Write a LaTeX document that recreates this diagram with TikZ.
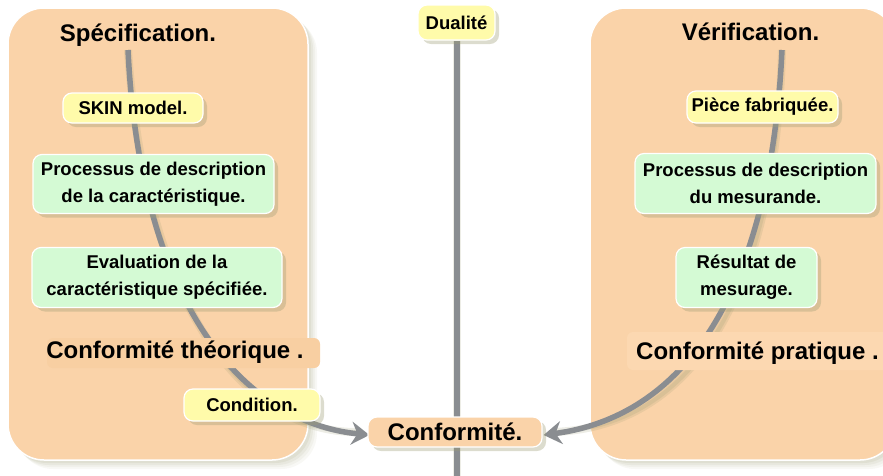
\documentclass[tikz,border=0pt]{standalone}
\usepackage{fontspec}
\setmainfont{Liberation Sans}
\usetikzlibrary{shadows,arrows.meta,calc}
\definecolor{peach}{HTML}{FAD3A9}
\definecolor{peachd}{HTML}{F8CFA2}
\definecolor{peachl}{HTML}{FCD8B1}
\definecolor{yel}{HTML}{FFFBAA}
\definecolor{grn}{HTML}{D4FAD4}
\definecolor{lgrey}{HTML}{8A8D91}
\definecolor{shcol}{HTML}{9C9C74}
\pgfdeclarelayer{back}
\pgfdeclarelayer{mid}
\pgfsetlayers{back,mid,main}
\begin{document}
\begin{tikzpicture}[x=1pt,y=-1pt,
  box/.style={draw=white, line width=1.2pt, rounded corners=9pt, align=center, inner sep=0pt,
    font=\fontsize{18.5}{27}\selectfont\bfseries,
    drop shadow={shadow xshift=4pt,shadow yshift=-4pt,fill=shcol,opacity=0.35}},
  ybox/.style={box, fill=yel},
  gbox/.style={box, fill=grn},
  bigtext/.style={font=\fontsize{24}{28}\selectfont\bfseries, inner sep=0pt},
  panel/.style={draw=white, line width=1.5pt, fill=peach, rounded corners=36pt, inner sep=0pt},
  conn/.style={draw=lgrey, line width=5.5pt},
  connsh/.style={draw=shcol, line width=8pt, opacity=0.18, xshift=5pt, yshift=-8pt},
  connsh2/.style={draw=shcol, line width=4pt, opacity=0.2, xshift=5pt, yshift=-8pt},
  tip/.style={-{Stealth[length=18pt,width=23pt,inset=6pt]}},
]
\useasboundingbox (0,0) rectangle (883,475);

% panels
\begin{pgfonlayer}{back}
\foreach \o/\op in {9/0.07,7/0.08,5/0.10,3/0.12}{
  \fill[shcol,opacity=\op,rounded corners=36pt,xshift=\o pt,yshift=-\o pt] (8,8) rectangle (308,460);
  \fill[shcol,opacity=\op,rounded corners=36pt,xshift=\o pt,yshift=-\o pt] (590,8) rectangle (896,460);
}
\node[panel, minimum width=300pt, minimum height=452pt] (lp) at (158,234) {};
\node[panel, minimum width=306pt, minimum height=452pt] (rp) at (743,234) {};
\end{pgfonlayer}

% titles
\node[bigtext, anchor=base] (spec) at (138,41) {Spécification.};
\node[bigtext, anchor=base] (verif) at (750.5,40) {Vérification.};
\coordinate (ls) at (128,50);
\coordinate (rs) at (782,50);
\coordinate (vb) at (456.5,480);

% nodes
\node[ybox, minimum width=77pt, minimum height=35pt] (dual) at (456.5,22.5) {Dualité};
\node[ybox, minimum width=140pt, minimum height=30pt] (skin) at (133,108) {SKIN model.};
\node[gbox, minimum width=241pt, minimum height=59pt] (procl) at (153.5,184) {Processus de description\\de la caractéristique.};
\node[gbox, minimum width=250pt, minimum height=60pt] (eval) at (157,277.5) {Evaluation de la\\caractéristique spécifiée.};
\node[fill=peachd, rounded corners=6pt, minimum width=273pt, minimum height=30pt, inner sep=0pt] (ctbg) at (183.5,353) {};
\node[bigtext, anchor=base] (ct) at (175,358) {Conformité théorique .};
\node[ybox, minimum width=136pt, minimum height=32pt] (cond) at (252,405) {Condition.};
\node[box, fill=peach, minimum width=174pt, minimum height=30pt, font=\fontsize{24}{28}\selectfont\bfseries] (conf) at (455,432) {Conformité.};

\node[ybox, minimum width=151pt, minimum height=32pt] (piece) at (762.5,107) {Pièce fabriquée.};
\node[gbox, minimum width=241pt, minimum height=60pt] (procr) at (755.5,183.5) {Processus de description\\du mesurande.};
\node[gbox, minimum width=141pt, minimum height=60pt] (res) at (746.5,277.5) {Résultat de\\mesurage.};
\node[fill=peachl, rounded corners=6pt, minimum width=263pt, minimum height=38pt, inner sep=0pt] (cpbg) at (758.5,351) {};
\node[bigtext, anchor=base] (cp) at (757.5,359) {Conformité pratique .};

% connectors
\begin{pgfonlayer}{mid}
\draw[connsh] (ls) .. controls (140,300) and (240,425) .. ([xshift=-10pt]conf.west);
\draw[connsh2] (ls) .. controls (140,300) and (240,425) .. ([xshift=-10pt]conf.west);
\draw[conn, tip] (ls) .. controls (140,300) and (240,422) .. ([xshift=2pt,yshift=-3pt]conf.west);
\draw[connsh] (rs) .. controls (770,300) and (680,420) .. ([xshift=10pt]conf.east);
\draw[connsh2] (rs) .. controls (770,300) and (680,420) .. ([xshift=10pt]conf.east);
\draw[conn, tip] (rs) .. controls (770,300) and (680,417) .. ([xshift=1pt,yshift=-3pt]conf.east);
\draw[connsh] (dual.south) -- (dual.south |- vb);
\draw[connsh2] (dual.south) -- (dual.south |- vb);
\draw[conn, line width=6pt] (dual.south) -- (dual.south |- vb);
\end{pgfonlayer}
\end{tikzpicture}
\end{document}
